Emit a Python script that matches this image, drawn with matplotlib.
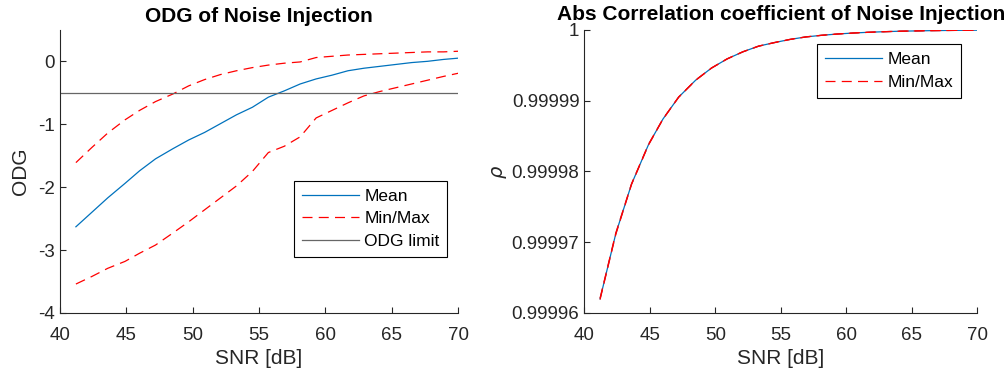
import numpy as np
import matplotlib

matplotlib.use("Agg")
import matplotlib.pyplot as plt
from matplotlib.ticker import FuncFormatter

# SNR sample points [dB]
snr = [41.2, 42.4, 43.6, 44.9, 46.0, 47.2, 48.5, 49.7, 50.9, 52.1, 53.3, 54.5, 55.7,
       56.9, 58.1, 59.3, 60.5, 61.7, 62.9, 64.1, 65.3, 66.5, 67.7, 68.9, 70.0]

odg_mean = [-2.63, -2.40, -2.17, -1.94, -1.74, -1.55, -1.39, -1.25, -1.13, -0.99, -0.85, -0.73, -0.57,
            -0.47, -0.36, -0.28, -0.22, -0.15, -0.11, -0.08, -0.05, -0.02, 0.00, 0.03, 0.05]
odg_min = [-3.54, -3.42, -3.29, -3.18, -3.05, -2.92, -2.73, -2.55, -2.36, -2.17, -1.98, -1.75, -1.45,
           -1.35, -1.20, -0.90, -0.78, -0.66, -0.55, -0.48, -0.42, -0.36, -0.30, -0.24, -0.19]
odg_max = [-1.61, -1.37, -1.14, -0.93, -0.78, -0.64, -0.52, -0.39, -0.29, -0.21, -0.15, -0.10, -0.06,
           -0.03, -0.01, 0.06, 0.08, 0.10, 0.11, 0.12, 0.13, 0.14, 0.15, 0.15, 0.16]
odg_limit = -0.5

# 1 - |rho|, in units of 1e-6
rho_gap = [38.0, 28.8, 21.8, 16.2, 12.6, 9.5, 7.1, 5.4, 4.1, 3.1, 2.3, 1.8, 1.35,
           1.0, 0.77, 0.59, 0.45, 0.34, 0.26, 0.19, 0.15, 0.11, 0.085, 0.064, 0.05]
rho_gap_min = [38.1, 28.9, 21.85, 16.25, 12.62, 9.52, 7.11, 5.41, 4.11, 3.11, 2.31, 1.81, 1.36,
               1.01, 0.775, 0.595, 0.455, 0.345, 0.262, 0.192, 0.152, 0.112, 0.086, 0.065, 0.051]
rho_gap_max = [37.9, 28.7, 21.75, 16.15, 12.58, 9.48, 7.09, 5.39, 4.09, 3.09, 2.29, 1.79, 1.34,
               0.99, 0.765, 0.585, 0.445, 0.335, 0.258, 0.188, 0.148, 0.108, 0.084, 0.063, 0.049]

BLUE = (0.0, 0.447, 0.741)
RED = (1.0, 0.0, 0.0)
AX_COLOR = (0.15, 0.15, 0.15)
DASH = (0, (8, 5))

plt.rcParams["font.family"] = ["Liberation Sans", "DejaVu Sans"]
plt.rcParams["mathtext.fontset"] = "dejavusans"

LEGEND_KW = dict(fontsize=12.5, handlelength=3.3, fancybox=False, framealpha=1, borderpad=0.45,
                 labelspacing=0.42, handletextpad=0.3, borderaxespad=0)


def style_axes(ax):
    for side in ("top", "right"):
        ax.spines[side].set_visible(False)
    for side in ("left", "bottom"):
        ax.spines[side].set_color(AX_COLOR)
        ax.spines[side].set_linewidth(0.8)
    ax.tick_params(direction="in", length=4, width=0.8, colors=AX_COLOR, labelsize=13.5,
                   labelcolor=AX_COLOR)
    ax.tick_params(axis="x", pad=10)
    ax.set_xlim(40, 70)
    ax.set_xticks(np.arange(40, 71, 5))
    ax.set_xlabel("SNR [dB]", fontsize=15, color=AX_COLOR, labelpad=4)


def style_legend(leg):
    leg.get_frame().set_edgecolor("black")
    leg.get_frame().set_linewidth(0.8)


fig = plt.figure(figsize=(10.08, 3.76), dpi=100)
ax1 = fig.add_axes([0.0595, 0.1676, 0.395, 0.753])
ax2 = fig.add_axes([0.5797, 0.1676, 0.390, 0.753])

# left: ODG
ax1.plot(snr, odg_mean, color=BLUE, lw=0.9, label="Mean")
ax1.plot(snr, odg_min, color=RED, lw=0.9, ls=DASH, label="Min/Max")
ax1.plot(snr, odg_max, color=RED, lw=0.9, ls=DASH)
ax1.plot([40, 70], [odg_limit, odg_limit], color=(0.4, 0.4, 0.4), lw=0.9, label="ODG limit")
style_axes(ax1)
ax1.set_ylim(-4, 0.5)
ax1.set_yticks([-4, -3, -2, -1, 0])
ax1.set_yticklabels(["-4", "-3", "-2", "-1", "0"])
ax1.set_ylabel("ODG", fontsize=15, color=AX_COLOR, labelpad=6)
ax1.set_title("ODG of Noise Injection", fontsize=15, fontweight="bold", pad=6)
style_legend(ax1.legend(loc="lower right", bbox_to_anchor=(0.973, 0.199), **LEGEND_KW))

# right: correlation coefficient
rho_mean = [1 - g * 1e-6 for g in rho_gap]
rho_min = [1 - g * 1e-6 for g in rho_gap_min]
rho_max = [1 - g * 1e-6 for g in rho_gap_max]
ax2.plot(snr, rho_mean, color=BLUE, lw=0.9, label="Mean")
ax2.plot(snr, rho_min, color=RED, lw=0.9, ls=DASH, label="Min/Max")
ax2.plot(snr, rho_max, color=RED, lw=0.9, ls=DASH)
style_axes(ax2)
ax2.set_ylim(0.99996, 1.0)
ax2.set_yticks([0.99996, 0.99997, 0.99998, 0.99999, 1.0])
ax2.yaxis.set_major_formatter(FuncFormatter(lambda v, p: "1" if abs(v - 1) < 1e-9 else f"{v:.5f}"))
ax2.set_ylabel(r"$\rho$", fontsize=14, color=AX_COLOR, labelpad=2)
ax2.set_title("Abs Correlation coefficient of Noise Injection", fontsize=15,
              fontweight="bold", pad=7)
style_legend(ax2.legend(loc="upper right", bbox_to_anchor=(0.958, 0.949), **LEGEND_KW))

fig.savefig("out.png", dpi=100)
plt.close(fig)
